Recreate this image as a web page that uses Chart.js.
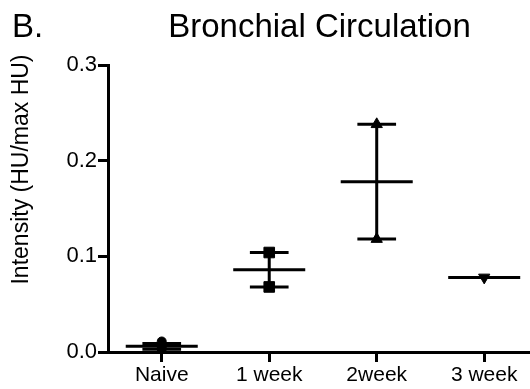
<!DOCTYPE html>
<html>
<head>
<meta charset="utf-8">
<script src="https://cdn.jsdelivr.net/npm/chart.js@4"></script>
<style>
  html, body { margin: 0; padding: 0; background: #fff; overflow: hidden; }
  #wrap { width: 530px; height: 389px; }
</style>
</head>
<body>
<div id="wrap"><canvas id="c" width="530" height="389"></canvas></div>
<script>
// ---- data ----
const categories = ['Naive', '1 week', '2week', '3 week'];
const naivePoints = [0.011, 0.004, 0.003];
const week1Points = [0.104, 0.068];
const week2Points = [0.238, 0.118];
const week3Points = [0.078];
const groupMeans = [0.006, 0.086, 0.178, 0.078];
const errLow  = [0.003, 0.068, 0.118, null];
const errHigh = [0.009, 0.104, 0.238, null];
const yTicks = [0.0, 0.1, 0.2, 0.3];
const panelLabel = 'B.';
const chartTitle = 'Bronchial Circulation';
const yAxisTitle = 'Intensity (HU/max HU)';

const FONT = '"Liberation Sans", Arial, sans-serif';
const MEAN_HALF = 0.335;
const CAP_HALF = 0.18;

function pts(arr, i) { return arr.map(v => ({ x: i, y: v })); }

const meanData = [];
groupMeans.forEach((m, i) => {
  meanData.push({ x: i - MEAN_HALF, y: m }, { x: i + MEAN_HALF, y: m }, { x: i, y: null });
});
const errData = [];
errLow.forEach((lo, i) => {
  const hi = errHigh[i];
  if (lo === null || hi === null) return;
  errData.push({ x: i, y: lo }, { x: i, y: hi }, { x: i, y: null });
  errData.push({ x: i - CAP_HALF, y: lo }, { x: i + CAP_HALF, y: lo }, { x: i, y: null });
  errData.push({ x: i - CAP_HALF, y: hi }, { x: i + CAP_HALF, y: hi }, { x: i, y: null });
});

const lineDs = (data) => ({
  type: 'scatter', data, showLine: true, spanGaps: false,
  borderColor: '#000', borderWidth: 3, borderCapStyle: 'butt',
  pointRadius: 0, pointHoverRadius: 0, fill: false
});
const markerDs = (data, style, r, rot) => ({
  type: 'scatter', data, showLine: false,
  pointStyle: style, pointRadius: r, pointRotation: rot || 0,
  pointBackgroundColor: '#000', pointBorderColor: '#000', pointBorderWidth: 1
});

const textPlugin = {
  id: 'texts',
  afterDraw(chart) {
    const ctx = chart.ctx;
    ctx.save();
    ctx.fillStyle = '#000';
    ctx.textBaseline = 'alphabetic';
    ctx.font = '33px ' + FONT;
    ctx.textAlign = 'left';
    ctx.fillText(panelLabel, 12, 37);
    ctx.textAlign = 'center';
    ctx.fillText(chartTitle, 319.5, 37);
    ctx.font = '23px ' + FONT;
    ctx.translate(22, 169.5);
    ctx.rotate(-Math.PI / 2);
    ctx.textBaseline = 'middle';
    ctx.fillText(yAxisTitle, 0, 0);
    ctx.restore();
  }
};

new Chart(document.getElementById('c'), {
  type: 'scatter',
  data: {
    datasets: [
      markerDs(pts(naivePoints, 0), 'circle', 4.5),
      markerDs(pts(week1Points, 1), 'rect', 7.5),
      markerDs(pts(week2Points, 2), 'triangle', 6.5),
      markerDs(pts(week3Points, 3), 'triangle', 6.5, 180),
      lineDs(meanData),
      lineDs(errData)
    ]
  },
  options: {
    responsive: false,
    animation: false,
    devicePixelRatio: 1,
    layout: { autoPadding: false, padding: { top: 65, right: 0, left: 0, bottom: 0 } },
    plugins: { legend: { display: false }, tooltip: { enabled: false }, title: { display: false } },
    scales: {
      x: {
        type: 'linear', min: -0.5, max: 3.426,
        afterBuildTicks: (s) => { s.ticks = categories.map((_, i) => ({ value: i })); },
        afterFit: (s) => { s.height = 37; s.paddingLeft = 0; s.paddingRight = 0; },
        ticks: {
          callback: (v) => categories[v] ?? '',
          color: '#000', font: { family: FONT, size: 21 }, padding: 1, maxRotation: 0, autoSkip: false
        },
        grid: { display: true, drawOnChartArea: false, drawTicks: true, tickLength: 10, tickWidth: 3, tickColor: '#000' },
        border: { display: true, color: '#000', width: 3 }
      },
      y: {
        type: 'linear', min: 0, max: 0.3,
        afterBuildTicks: (s) => { s.ticks = yTicks.map(v => ({ value: v })); },
        afterFit: (s) => { s.width = 108; s.paddingTop = 0; s.paddingBottom = 0; },
        ticks: {
          callback: (v) => v.toFixed(1),
          color: '#000', font: { family: FONT, size: 22 }, padding: 1
        },
        grid: { display: true, drawOnChartArea: false, drawTicks: true, tickLength: 10, tickWidth: 3, tickColor: '#000' },
        border: { display: true, color: '#000', width: 3 }
      }
    }
  },
  plugins: [textPlugin]
});
</script>
</body>
</html>
